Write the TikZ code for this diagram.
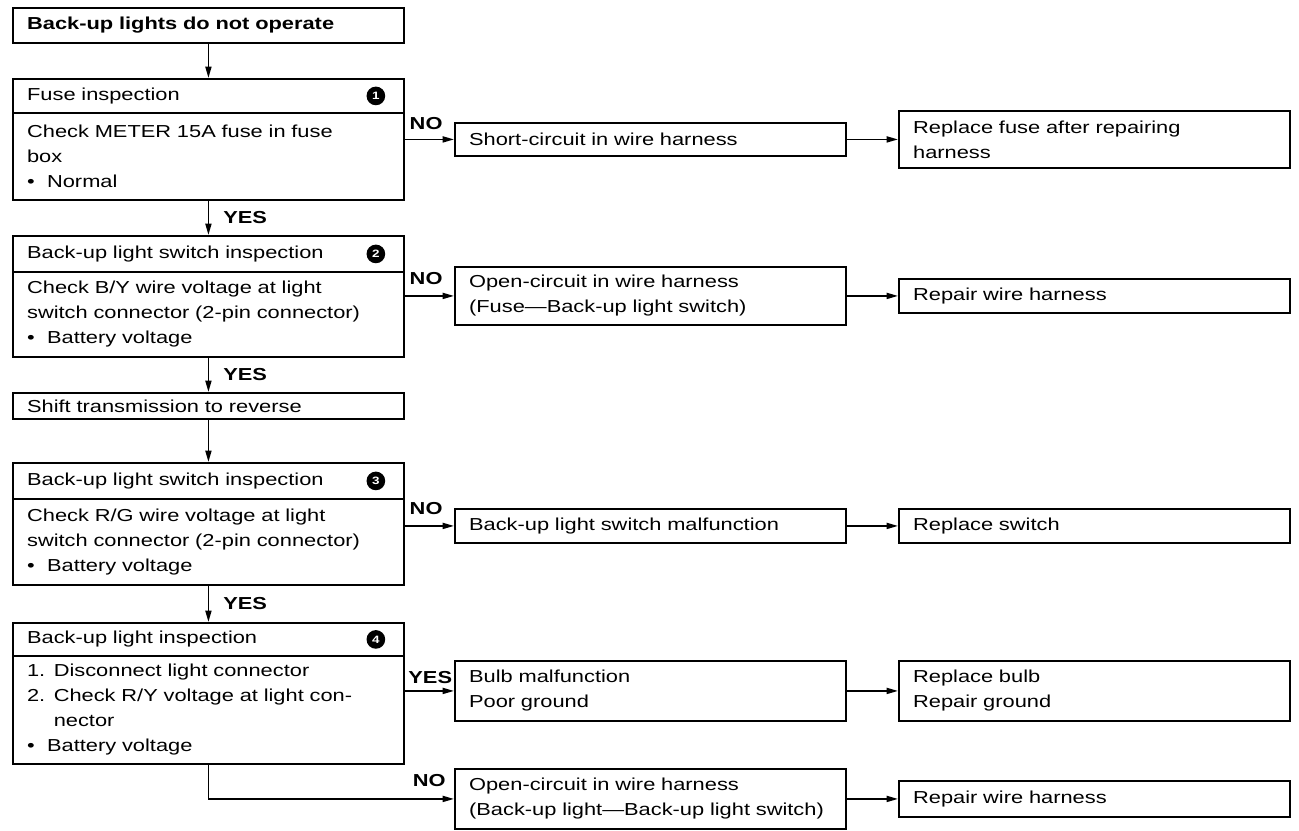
\documentclass[tikz,border=0pt]{standalone}
\usepackage{fontspec}
\setmainfont{Liberation Sans}[FakeStretch=1.26]
\usetikzlibrary{arrows.meta,calc}
\newcommand\mainf{\fontsize{13}{18.75}\selectfont}
\newcommand\bul{\makebox[15pt][l]{•}}
\newcommand\itm[1]{\makebox[20pt][l]{#1}}
\begin{document}
\begin{tikzpicture}[x=0.75pt,y=-0.75pt,
  box/.style={draw, line width=1.4pt, anchor=north west, minimum width=293.25pt,
    text width=272pt, inner xsep=10.6pt, inner ysep=0pt, align=left, font=\mainf},
  hh/.style={minimum height=#1*0.75pt},
  arr/.style={line width=1.3pt, -{Triangle[length=8.5pt,width=4.5pt]}},
  lbl/.style={font=\mainf\bfseries, inner sep=0pt},
  circ/.style={circle, fill=black, inner sep=0pt, minimum size=14pt, text=white,
    font=\fontsize{8}{8}\selectfont\bfseries}]
\useasboundingbox (0,0) rectangle (1299,831);

% left column
\node[box,hh=35] (b0) at (12,7) {\bfseries Back-up lights do not operate};
\node[box,hh=34] (b1t) at (12,78) {Fuse inspection};
\node[box,hh=87] (b1b) at (12,112) {Check METER 15A fuse in fuse\\box\\\bul Normal};
\node[box,hh=36] (b2t) at (12,235) {Back-up light switch inspection};
\node[box,hh=85] (b2b) at (12,271) {Check B/Y wire voltage at light\\switch connector (2-pin connector)\\\bul Battery voltage};
\node[box,hh=26] (b3) at (12,392) {Shift transmission to reverse};
\node[box,hh=36] (b4t) at (12,462) {Back-up light switch inspection};
\node[box,hh=86] (b4b) at (12,498) {Check R/G wire voltage at light\\switch connector (2-pin connector)\\\bul Battery voltage};
\node[box,hh=33] (b5t) at (12,622) {Back-up light inspection};
\node[box,hh=108] (b5b) at (12,655) {\itm{1.}Disconnect light connector\\\itm{2.}Check R/Y voltage at light con-\\\hspace*{20pt}nector\\\bul Battery voltage};

% numbered circles
\node[circ] (c1) at ($(b1t.east)+(-29,0)$) {1};
\node[circ] (c2) at ($(b2t.east)+(-29,0)$) {2};
\node[circ] (c3) at ($(b4t.east)+(-29,0)$) {3};
\node[circ] (c4) at ($(b5t.east)+(-29,0)$) {4};

% middle column
\node[box,hh=33] (short) at (454,122) {Short-circuit in wire harness};
\node[box,hh=58] (open1) at (454,266) {Open-circuit in wire harness\\(Fuse—Back-up light switch)};
\node[box,hh=34] (malf) at (454,508) {Back-up light switch malfunction};
\node[box,hh=60] (bulb) at (454,660) {Bulb malfunction\\Poor ground};
\node[box,hh=60] (open2) at (454,768) {Open-circuit in wire harness\\(Back-up light—Back-up light switch)};

% right column
\node[box,hh=57] (rfuse) at (898,110) {Replace fuse after repairing\\harness};
\node[box,hh=34] (rep1) at (898,278) {Repair wire harness};
\node[box,hh=34] (rsw) at (898,508) {Replace switch};
\node[box,hh=60] (rbulb) at (898,660) {Replace bulb\\Repair ground};
\node[box,hh=36] (rep2) at (898,780) {Repair wire harness};

% vertical flow
\draw[arr] (b0.south) -- (b1t.north);
\draw[arr] (b1b.south) -- node[lbl, anchor=west, xshift=10.5pt] (y1) {YES} (b2t.north);
\draw[arr] (b2b.south) -- node[lbl, anchor=west, xshift=10.5pt] (y2) {YES} (b3.north);
\draw[arr] (b3.south) -- (b4t.north);
\draw[arr] (b4b.south) -- node[lbl, anchor=west, xshift=10.5pt] (y3) {YES} (b5t.north);

% branches
\draw[arr] (b1b.east |- short.west) -- node[pos=0, lbl, anchor=south west, xshift=3pt, yshift=7pt] (n1) {NO} (short.west);
\draw[arr] (short.east) -- (rfuse.west |- short.east);
\draw[arr] (b2b.east |- open1.west) -- node[pos=0, lbl, anchor=south west, xshift=3pt, yshift=8pt] (n2) {NO} (open1.west);
\draw[arr] (open1.east) -- (rep1.west |- open1.east);
\draw[arr] (b4b.east |- malf.west) -- node[pos=0, lbl, anchor=south west, xshift=3pt, yshift=8pt] (n3) {NO} (malf.west);
\draw[arr] (malf.east) -- (rsw.west |- malf.east);
\draw[arr] (b5b.east |- bulb.west) -- node[pos=0, lbl, anchor=south west, xshift=2pt, yshift=5pt] (y4) {YES} (bulb.west);
\draw[arr] (bulb.east) -- (rbulb.west |- bulb.east);
\draw[arr] (b5b.south) |- (open2.west);
\node[lbl, anchor=south east, xshift=-6pt, yshift=9pt] (n5) at (open2.west) {NO};
\draw[arr] (open2.east) -- (rep2.west |- open2.east);
\end{tikzpicture}
\end{document}
